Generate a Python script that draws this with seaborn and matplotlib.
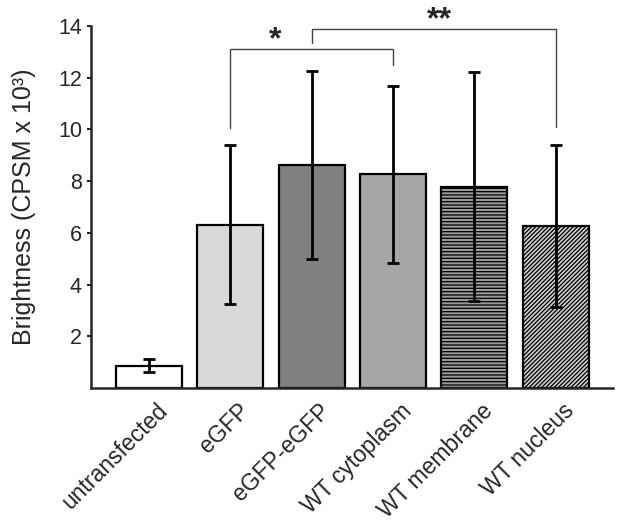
import numpy as np
import pandas as pd
import matplotlib
matplotlib.use("Agg")
import matplotlib.pyplot as plt
import matplotlib.transforms as mtransforms
import seaborn as sns

# --- DATA ---
CATEGORIES = ["untransfected", "eGFP", "eGFP-eGFP", "WT cytoplasm", "WT membrane", "WT nucleus"]
BRIGHTNESS = [0.87, 6.32, 8.63, 8.27, 7.78, 6.27]
ERRORS = [0.25, 3.08, 3.63, 3.42, 4.42, 3.13]
COLORS = ["#ffffff", "#d9d9d9", "#808080", "#a6a6a6", "#9a9a9a", "#cfcfcf"]
HATCHES = ["", "", "", "", "-----", "////////"]
Y_TICKS = [2, 4, 6, 8, 10, 12, 14]
# significance brackets: (left idx, right idx, bracket top, left foot, right foot, label, label x, label y)
BRACKETS = [
    (1, 3, 13.11, 10.05, 12.49, "*", 1.55, 13.45),
    (2, 5, 13.88, 13.34, 10.09, "**", 3.57, 14.2),
]
# -------------------------------------

sns.set_style("ticks")
plt.rcParams["font.family"] = ["Liberation Sans", "DejaVu Sans"]
plt.rcParams["hatch.linewidth"] = 0.9

df = pd.DataFrame({"group": CATEGORIES, "brightness": BRIGHTNESS})

fig = plt.figure(figsize=(6.24, 5.28), dpi=100)
ax = fig.add_axes([0.1458, 0.265, 0.8362, 0.686])

sns.barplot(data=df, x="group", y="brightness", hue="group",
            palette=dict(zip(CATEGORIES, COLORS)), legend=False,
            width=0.81, edgecolor="black", linewidth=1.6, ax=ax)

for patch, h in zip(ax.patches, HATCHES):
    patch.set_hatch(h)

ax.errorbar(range(len(CATEGORIES)), BRIGHTNESS, yerr=ERRORS, fmt="none",
            ecolor="black", elinewidth=2.0, capsize=4, capthick=2.0, zorder=5)

# significance brackets
for i, j, top, yl, yr, label, lx, ly in BRACKETS:
    ax.plot([i, i, j, j], [yl, top, top, yr], color="#444444", lw=1.0,
            clip_on=False, zorder=6)
    ax.text(lx, ly, label, ha="center", va="center", fontsize=23,
            fontweight="bold", clip_on=False)

ax.set_ylim(0, 14)
ax.set_xlim(-0.71, 5.70)
ax.set_yticks(Y_TICKS)
ax.set_ylabel("Brightness (CPSM x 10³)", fontsize=18, labelpad=16)
ax.set_xlabel("")
ax.tick_params(axis="y", labelsize=15.5, length=3, width=1.5, direction="out")
ax.tick_params(axis="x", labelsize=16.5, length=0, pad=8)
plt.setp(ax.get_xticklabels(), rotation=45, ha="right", rotation_mode="anchor")

# nudge the rotated labels a little to the right of each bar centre
shift = mtransforms.ScaledTranslation(0.07, 0, fig.dpi_scale_trans)
for lab in ax.get_xticklabels():
    lab.set_transform(lab.get_transform() + shift)

sns.despine(ax=ax)
for side in ["left", "bottom"]:
    ax.spines[side].set_linewidth(1.8)

fig.savefig("out.png", dpi=100)
